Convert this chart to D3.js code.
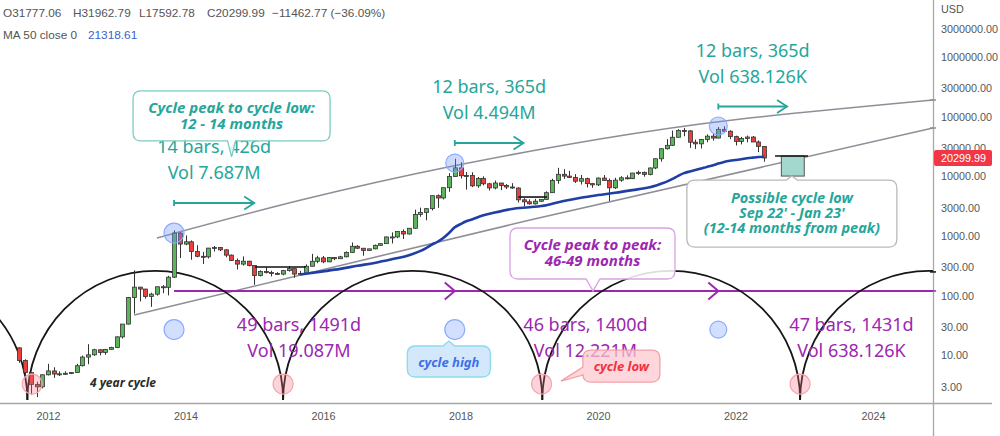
<!DOCTYPE html>
<html><head><meta charset="utf-8">
<script src="https://cdn.jsdelivr.net/npm/d3@7"></script>
<style>html,body{margin:0;padding:0;background:#fff;overflow:hidden}</style>
</head><body><svg id="c" width="1000" height="436"></svg>
<script>
// ---------------- DATA ----------------
const firstMonth = "2011-08";
const opens = [
  13.35, 8.2, 5.14, 3.25, 2.97,
  4.72, 5.48, 4.86, 4.9, 5.0, 5.15, 6.7, 9.35, 10.2, 12.4, 11.2, 12.6,
  13.5, 20.4, 33.4, 93, 139, 129, 97, 106, 141, 138, 204, 1120,
  732, 800, 549, 457, 447, 627, 640, 586, 478, 388, 338, 378,
  320, 217, 254, 244, 236, 230, 263, 284, 230, 236, 311, 377,
  430, 369, 437, 416, 448, 530, 673, 624, 573, 609, 698, 745,
  964, 965, 1190, 1080, 1348, 2300, 2480, 2870, 4740, 4340, 6450, 9950,
  13880, 10220, 10330, 6930, 9240, 7500, 6390, 7730, 7030, 6630, 6370, 4040,
  3740, 3460, 3830, 4110, 5320, 8560, 10820, 10080, 9600, 8290, 9150, 7550,
  7200, 9350, 8540, 6420, 8630, 9450, 9140, 11350, 11650, 10780, 13800, 19700,
  28990, 33100, 45170, 58800, 57750, 37300, 35040, 41460, 47100, 43790, 61300, 57000,
  46300, 38480, 43160, 45510, 37640, 31777.06
];
const highs = [
  13.5, 8.6, 5.2, 3.6, 4.8,
  7.2, 6.3, 5.4, 5.4, 5.2, 7.2, 9.9, 15.4, 12.9, 12.6, 12.8, 13.9,
  20.7, 33.5, 95, 266, 140, 130, 112, 141, 150, 215, 1242, 1163,
  1022, 843, 700, 540, 630, 680, 650, 600, 490, 420, 455, 385,
  320, 266, 300, 262, 248, 268, 315, 285, 260, 335, 502, 465,
  463, 441, 439, 466, 552, 779, 704, 625, 614, 719, 750, 978,
  1150, 1200, 1290, 1350, 2760, 2990, 2950, 4750, 4980, 6470, 11300, 19700,
  17200, 11800, 11700, 9760, 10000, 7780, 8500, 7770, 7410, 7680, 6570, 4310,
  4110, 4200, 4150, 5600, 9090, 13880, 13200, 12330, 10900, 10540, 9500, 7750,
  9580, 10500, 9190, 9460, 10070, 10400, 11450, 12480, 12070, 14100, 19900, 29300,
  41950, 58350, 61800, 64900, 59600, 41300, 42300, 50500, 52900, 67000, 69000, 59050,
  48000, 45800, 48200, 47450, 40000, 31962.79
];
const lows = [
  7.5, 4.6, 2.2, 2.0, 2.8,
  4.6, 4.2, 4.5, 4.7, 4.85, 5.2, 6.5, 7.1, 9.8, 10.0, 10.2, 12.4,
  13.2, 19.1, 33, 50, 80, 89, 65, 100, 110, 101, 198, 427,
  700, 400, 440, 340, 420, 550, 560, 440, 380, 275, 320, 310,
  152, 210, 235, 210, 225, 220, 253, 200, 225, 236, 311, 350,
  350, 365, 393, 413, 438, 521, 605, 468, 570, 600, 680, 742,
  750, 920, 890, 1060, 1330, 2100, 1830, 2680, 2970, 4100, 5500, 9900,
  9200, 6000, 6600, 6430, 7030, 5780, 6070, 5880, 6130, 6200, 3650, 3130,
  3350, 3370, 3700, 4100, 5330, 7500, 9070, 9360, 7740, 7300, 6510, 6430,
  6870, 8450, 3850, 6150, 8100, 8900, 8990, 10550, 9850, 10400, 13200, 17600,
  28130, 32300, 45000, 47000, 30000, 28800, 29300, 37300, 39600, 43300, 53250, 42000,
  32900, 34300, 37200, 37600, 25400, 17592.78
];
const closes = [
  8.2, 5.14, 3.25, 2.97, 4.72,
  5.48, 4.86, 4.9, 5.0, 5.15, 6.7, 9.35, 10.2, 12.4, 11.2, 12.6, 13.5,
  20.4, 33.4, 93, 139, 129, 97, 106, 141, 138, 204, 1120, 732,
  800, 549, 457, 447, 627, 640, 586, 478, 388, 338, 378, 320,
  217, 254, 244, 236, 230, 263, 284, 230, 236, 311, 377, 430,
  369, 437, 416, 448, 530, 673, 624, 573, 609, 698, 745, 964,
  965, 1190, 1080, 1348, 2300, 2480, 2870, 4740, 4340, 6450, 9950, 13880,
  10220, 10330, 6930, 9240, 7500, 6390, 7730, 7030, 6630, 6370, 4040, 3740,
  3460, 3830, 4110, 5320, 8560, 10820, 10080, 9600, 8290, 9150, 7550, 7200,
  9350, 8540, 6420, 8630, 9450, 9140, 11350, 11650, 10780, 13800, 19700, 28990,
  33100, 45170, 58800, 57750, 37300, 35040, 41460, 47100, 43790, 61300, 57000, 46300,
  38480, 43160, 45510, 37640, 31762.76, 20299.99
];
// MA 50 (close)
const maMonths = ["2015-09","2016-01","2016-04","2016-07","2016-10","2017-01","2017-04","2017-07","2017-08","2017-09","2017-10","2017-11","2017-12","2018-01","2018-02","2018-03","2018-04","2018-07","2018-10","2019-01","2019-04","2019-07","2019-10","2020-01","2020-04","2020-07","2020-10","2020-11","2020-12","2021-01","2021-02","2021-03","2021-04","2021-05","2021-06","2021-07","2021-08","2021-09","2021-10","2021-11","2021-12","2022-01","2022-02","2022-03","2022-04","2022-05","2022-06"];
const maValues = [226,255,281,317,354,407,476,624,716,801,927,1124,1397,1579,1771,1894,2067,2469,2836,3038,3288,3863,4388,4852,5299,5870,6557,6939,7504,8152,9036,10192,11324,12048,12722,13505,14397,15216,16347,17400,18197,18768,19353,20059,20605,21103,21318.61];

// drawings (time as fractional year, price in USD)
const upperChannel = [[2013.585,925],[2015.665,3963],[2017.891,14890],[2020.029,42220],[2022.022,89900],[2024.873,190100]];
const lowerChannel = [[2013.251,47.4],[2019.011,1854],[2024.873,64560]];
const arcBounds = [2007.95, 2011.70, 2015.42, 2019.19, 2022.94, 2026.69];
const arcTopPrice = 260, arcBasePrice = 1.79;
const cycleLowMarks = [2011.77, 2015.42, 2019.18, 2022.94];
const cycleLowPrice = 3.3;
const peakMonths = ["2013-11","2017-12","2021-10"];
const peakPrices = [1120, 16700, 69700];
const lowerMarkPrice = 27;
const purpleLevel = 120;
const measureStarts = ["2013-11","2017-12","2021-10"];
const measureEnds = ["2015-01","2018-12","2022-10"];
const measureLevels = [3573, 36200, 148000];
const measureLine1 = ["14 bars, 426d","12 bars, 365d","12 bars, 365d"];
const measureLine2 = ["Vol 7.687M","Vol 4.494M","Vol 638.126K"];
const cycleTextTimes = [2015.651, 2019.818, 2023.687];
const cycleLine1 = ["49 bars, 1491d","46 bars, 1400d","47 bars, 1431d"];
const cycleLine2 = ["Vol 19.087M","Vol 12.221M","Vol 638.126K"];
const flatLevels = [[2015.01, 2015.75, 302], [2018.84, 2019.26, 4500], [2022.575, 2023.055, 21900]];
const lowZone = {from: 2022.667, to: 2023.0, lo: 10100, hi: 21900};
const priceTicks = [3,10,30,100,300,1000,3000,10000,30000,100000,300000,1000000,3000000];
const yearTicks = [2012,2014,2016,2018,2020,2022,2024];
const lastPrice = 20299.99;

// ---------------- SCALES ----------------
const X = d3.scaleLinear().domain([2012, 2024]).range([48, 873]);
const Y = d3.scaleLog().domain([1, 1e6]).range([415, 57]);
const T = s => { const [y, m] = s.split('-').map(Number); return y + (m - 1) / 12; };
const t0 = T(firstMonth);
const candles = closes.map((c, i) => ({t: t0 + i / 12, o: opens[i], h: highs[i], l: lows[i], c}));

const svg = d3.select('#c');
svg.append('rect').attr('width', 1000).attr('height', 436).attr('fill', '#fff');
svg.append('defs').append('clipPath').attr('id', 'plot')
  .append('rect').attr('x', 0).attr('y', 0).attr('width', 933).attr('height', 403);
const g = svg.append('g').attr('clip-path', 'url(#plot)');
const FONT = "'Noto Sans', 'DejaVu Sans', sans-serif";
const TEAL = '#26a69a', PURPLE = '#9c27b0';

// channel
const lg = d3.line().x(d => X(d[0])).y(d => Y(d[1]));
g.append('path').datum(upperChannel).attr('d', lg.curve(d3.curveNatural))
  .attr('fill', 'none').attr('stroke', '#8e8e98').attr('stroke-width', 1.6);
g.append('path').datum(lowerChannel).attr('d', lg.curve(d3.curveNatural))
  .attr('fill', 'none').attr('stroke', '#8e8e98').attr('stroke-width', 1.6);

// purple cycle line
const py = Y(purpleLevel);
g.append('line').attr('x1', X(T(peakMonths[0]))).attr('x2', 933).attr('y1', py).attr('y2', py)
  .attr('stroke', PURPLE).attr('stroke-width', 2);
peakMonths.slice(1).forEach(m => {
  const x = X(T(m));
  g.append('path').attr('d', `M${x-10},${py-8.5}L${x},${py}L${x-10},${py+8.5}`)
    .attr('fill', 'none').attr('stroke', PURPLE).attr('stroke-width', 2);
});

// black 4-year arcs
const yb = Y(arcBasePrice), ryA = Y(arcBasePrice) - Y(arcTopPrice);
for (let i = 0; i < arcBounds.length - 1; i++) {
  const a = X(arcBounds[i]), b = X(arcBounds[i + 1]);
  g.append('path').attr('d', `M${a},${yb}A${(b-a)/2},${ryA} 0 0 1 ${b},${yb}`)
    .attr('fill', 'none').attr('stroke', '#161616').attr('stroke-width', 1.8);
}

// candles
const cg = g.append('g');
candles.forEach(d => {
  const x = Math.round(X(d.t)) + 0.5;
  const up = d.c >= d.o;
  cg.append('line').attr('x1', x).attr('x2', x).attr('y1', Y(d.h)).attr('y2', Y(d.l))
    .attr('stroke', '#333').attr('stroke-width', 1);
  const yt = Y(Math.max(d.o, d.c)), ybm = Y(Math.min(d.o, d.c));
  cg.append('rect').attr('x', x - 2).attr('y', yt).attr('width', 4).attr('height', Math.max(1, ybm - yt))
    .attr('fill', up ? '#5cb55c' : '#e8403a').attr('stroke', '#333').attr('stroke-width', 0.8);
});

// MA 50
g.append('path').datum(maMonths.map((m, i) => [T(m), maValues[i]]))
  .attr('d', d3.line().x(d => X(d[0])).y(d => Y(d[1])).curve(d3.curveMonotoneX))
  .attr('fill', 'none').attr('stroke', '#1f3ea6').attr('stroke-width', 2.6);

// flat levels and low zone
g.append('rect').attr('x', X(lowZone.from)).attr('y', Y(lowZone.hi))
  .attr('width', X(lowZone.to) - X(lowZone.from)).attr('height', Y(lowZone.lo) - Y(lowZone.hi))
  .attr('fill', '#a3d8ce').attr('stroke', '#555').attr('stroke-width', 1);
flatLevels.forEach(f => {
  g.append('line').attr('x1', X(f[0])).attr('x2', X(f[1])).attr('y1', Y(f[2])).attr('y2', Y(f[2]))
    .attr('stroke', '#111').attr('stroke-width', 1.6);
});

// circles
peakMonths.forEach((m, i) => {
  g.append('circle').attr('cx', X(T(m))).attr('cy', Y(peakPrices[i])).attr('r', i === 0 ? 10 : 9)
    .attr('fill', 'rgba(110,150,255,0.35)').attr('stroke', '#8caaff').attr('stroke-width', 1.2);
  g.append('circle').attr('cx', X(T(m))).attr('cy', Y(lowerMarkPrice)).attr('r', i === 2 ? 8.5 : 10)
    .attr('fill', 'rgba(110,150,255,0.3)').attr('stroke', '#8caaff').attr('stroke-width', 1.2);
});
cycleLowMarks.forEach(t => {
  g.append('circle').attr('cx', X(t)).attr('cy', Y(cycleLowPrice)).attr('r', 10)
    .attr('fill', 'rgba(245,110,125,0.3)').attr('stroke', '#f6a3ab').attr('stroke-width', 1.2);
});

// teal measures
const mt = g.append('g').attr('font-family', FONT).attr('font-size', 18).attr('fill', TEAL).attr('text-anchor', 'middle');
measureStarts.forEach((m, i) => {
  const x1 = X(T(m)), x2 = X(T(measureEnds[i])), y = Y(measureLevels[i]);
  g.append('line').attr('x1', x1).attr('x2', x2).attr('y1', y).attr('y2', y).attr('stroke', TEAL).attr('stroke-width', 1.8);
  g.append('line').attr('x1', x1).attr('x2', x1).attr('y1', y - 3).attr('y2', y + 3).attr('stroke', TEAL).attr('stroke-width', 1.8);
  g.append('path').attr('d', `M${x2-10},${y-6.5}L${x2},${y}L${x2-10},${y+6.5}`)
    .attr('fill', 'none').attr('stroke', TEAL).attr('stroke-width', 1.8);
  const cx = (x1 + x2) / 2;
  mt.append('text').attr('x', cx).attr('y', y - 50).text(measureLine1[i]);
  mt.append('text').attr('x', cx).attr('y', y - 24).text(measureLine2[i]);
});

// purple cycle texts
const pt = g.append('g').attr('font-family', FONT).attr('font-size', 18).attr('fill', PURPLE).attr('text-anchor', 'middle');
cycleTextTimes.forEach((t, i) => {
  pt.append('text').attr('x', X(t)).attr('y', py + 40).text(cycleLine1[i]);
  pt.append('text').attr('x', X(t)).attr('y', py + 66).text(cycleLine2[i]);
});

// 4 year cycle label
g.append('text').attr('x', X(2013.09)).attr('y', Y(3.44) + 4.5).attr('text-anchor', 'middle')
  .attr('font-family', FONT).attr('font-size', 12).attr('font-weight', 'bold').attr('font-style', 'italic')
  .attr('fill', '#2b2b2b').text('4 year cycle');

// callouts
function callout(cx, cy, w, h, side, base, hw, tip, fill, stroke, lines, color, fs, firstBase, gap) {
  const x0 = cx - w/2, x1 = cx + w/2, y0 = cy - h/2, y1 = cy + h/2, r = 8;
  let p = `M${x0+r},${y0}`;
  if (side === 'top') p += `H${base-hw}L${tip[0]},${tip[1]}L${base+hw},${y0}`;
  p += `H${x1-r}Q${x1},${y0} ${x1},${y0+r}V${y1-r}Q${x1},${y1} ${x1-r},${y1}`;
  if (side === 'bottom') p += `H${base+hw}L${tip[0]},${tip[1]}L${base-hw},${y1}`;
  p += `H${x0+r}Q${x0},${y1} ${x0},${y1-r}`;
  if (side === 'left') p += `V${base+hw}L${tip[0]},${tip[1]}L${x0},${base-hw}`;
  p += `V${y0+r}Q${x0},${y0} ${x0+r},${y0}Z`;
  g.append('path').attr('d', p).attr('fill', fill).attr('stroke', stroke).attr('stroke-width', 1.3);
  const tg = g.append('text').attr('text-anchor', 'middle')
    .attr('font-family', FONT).attr('font-size', fs).attr('font-weight', 'bold').attr('font-style', 'italic')
    .attr('fill', color);
  lines.forEach((s, i) => {
    tg.append('tspan').attr('x', cx).attr('y', cy + firstBase + i * gap).text(s);
  });
}
{
  const cx = X(2014.67), cy = Y(103000);
  callout(cx, cy, 197, 50, 'bottom', cx, 4, [cx, cy + 41], 'rgba(255,255,255,0.85)', '#7ccbc1',
    ['Cycle peak to cycle low:', '12 - 14 months'], TEAL, 15, -3, 16);
}
{
  const cx = X(2019.92), cy = Y(509);
  callout(cx, cy, 165, 51, 'bottom', cx + 0.5, 7, [cx + 0.5, py], 'rgba(255,255,255,0.85)', '#d9a3e3',
    ['Cycle peak to peak:', '46-49 months'], PURPLE, 15, -3, 16);
}
{
  const cx = X(2022.82), cy = Y(2380);
  callout(cx, cy, 210, 67, 'top', cx, 5.5, [cx, Y(lowZone.lo)], 'rgba(255,255,255,0.95)', '#b9b9b9',
    ['Possible cycle low', "Sep 22' - Jan 23'", '(12-14 months from peak)'], TEAL, 14.5, -10.5, 15);
}
{
  const cx = X(2017.83), cy = Y(7.88);
  callout(cx, cy, 83, 31, 'top', cx, 6, [cx, cy - 20.5], 'rgba(205,228,252,0.85)', '#8bdaea',
    ['cycle high'], '#3f6fe6', 13, 5, 0);
}
{
  const cx = X(2020.34), cy = Y(6.6);
  callout(cx, cy, 77, 32, 'left', cy + 5, 4, [X(2019.46), cy + 15], 'rgba(252,200,206,0.72)', '#f5a0a8',
    ['cycle low'], '#f0323f', 13, 5, 0);
}

// ---------------- AXES ----------------
svg.append('line').attr('x1', 0).attr('x2', 992).attr('y1', 403.5).attr('y2', 403.5).attr('stroke', '#a8a8a8').attr('stroke-width', 1.6);
svg.append('line').attr('x1', 933.5).attr('x2', 933.5).attr('y1', 0).attr('y2', 436).attr('stroke', '#a8a8a8').attr('stroke-width', 1.3);

const ya = svg.append('g').attr('transform', 'translate(933,0)')
  .call(d3.axisRight(Y).tickValues(priceTicks).tickFormat(d3.format('.2f')).tickSize(0).tickPadding(8));
ya.select('.domain').remove();
ya.selectAll('text').attr('font-family', "'Liberation Sans', Arial, sans-serif").attr('font-size', 10.8).attr('fill', '#555');
svg.append('text').attr('x', 941).attr('y', 13).attr('font-family', "'Liberation Sans', Arial, sans-serif")
  .attr('font-size', 10.8).attr('fill', '#555').text('USD');

const xa = svg.append('g').attr('transform', 'translate(0,403)')
  .call(d3.axisBottom(X).tickValues(yearTicks).tickFormat(d3.format('d')).tickSize(0).tickPadding(9));
xa.select('.domain').remove();
xa.selectAll('text').attr('font-family', "'Liberation Sans', Arial, sans-serif").attr('font-size', 10.8).attr('fill', '#555');

// axis markers for drawings
[[upperChannel[upperChannel.length-1][1], '#8e8e98'], [lowerChannel[lowerChannel.length-1][1], '#8e8e98'], [250, '#111'], [purpleLevel, PURPLE]]
  .forEach(([v, c]) => svg.append('line').attr('x1', 930).attr('x2', 936).attr('y1', Y(v)).attr('y2', Y(v)).attr('stroke', c).attr('stroke-width', 1.5));

// last price tag
const lp = Y(lastPrice);
svg.append('rect').attr('x', 934).attr('y', lp - 8).attr('width', 58).attr('height', 16).attr('rx', 2).attr('fill', '#f23645');
svg.append('text').attr('x', 941).attr('y', lp + 4).attr('font-family', "'Liberation Sans', Arial, sans-serif")
  .attr('font-size', 10.8).attr('fill', '#fff').text(d3.format('.2f')(lastPrice));

// header
const H = svg.append('g').attr('font-family', "'Liberation Sans', Arial, sans-serif").attr('font-size', 11.8).attr('fill', '#555');
const last = candles[candles.length - 1];
const prevClose = closes[closes.length - 2];
const chg = last.c - prevClose;
const f2 = v => d3.format('.2f')(v).replace('-', '−');
[[3, 'O' + f2(last.o)], [73, 'H' + f2(last.h)], [139, 'L' + f2(last.l)],
 [207, 'C' + f2(last.c)], [272, f2(chg) + ' (' + f2(chg / prevClose * 100) + '%)']]
  .forEach(([x, s]) => H.append('text').attr('x', x).attr('y', 17).text(s));
H.append('text').attr('x', 3).attr('y', 39).text('MA 50 close 0');
H.append('text').attr('x', 88).attr('y', 39).attr('fill', '#3b62c8').text(f2(maValues[maValues.length - 1]));
</script></body></html>
